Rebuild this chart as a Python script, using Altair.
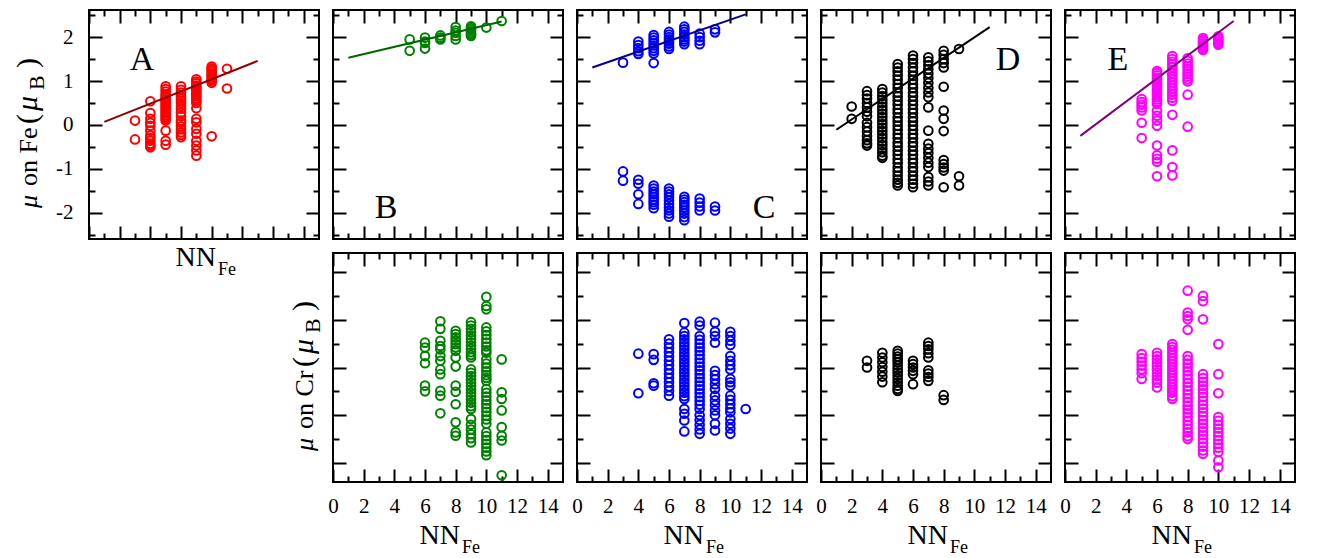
import altair as alt
import pandas as pd

FONT = "Liberation Serif"

# ---------------- data ----------------
# magnetic moment on Fe, keyed by number of Fe nearest neighbours
FE_A = {
    3: [0.10, -0.33],
    4: [0.54, 0.27, 0.14, 0.05, -0.02, -0.13, -0.24, -0.30, -0.36, -0.43, -0.47, -0.51],
    5: [0.88, 0.82, 0.76, 0.70, 0.66, 0.62, 0.58, 0.54, 0.50, 0.46, 0.42, 0.38, 0.34, 0.30,
        0.26, 0.22, 0.18, 0.14, 0.10, -0.13, -0.36, -0.45],
    6: [0.88, 0.80, 0.74, 0.66, 0.60, 0.55, 0.50, 0.43, 0.37, 0.28, 0.20, 0.10, 0.05, -0.03,
        -0.10, -0.17, -0.23, -0.28],
    7: [1.04, 0.99, 0.95, 0.90, 0.86, 0.82, 0.78, 0.74, 0.70, 0.65, 0.60, 0.55, 0.50, 0.38,
        0.14, 0.06, -0.09, -0.20, -0.36, -0.47, -0.58, -0.70],
    8: [1.33, 1.29, 1.25, 1.21, 1.17, 1.13, 1.09, 1.05, 1.01, 0.96, -0.26],
    9: [1.28, 0.83],
}
FE_B = {
    5: [1.95, 1.69],
    6: [1.99, 1.90, 1.87, 1.74],
    7: [2.04, 1.99, 1.95],
    8: [2.23, 2.15, 2.10, 2.03, 1.95],
    9: [2.25, 2.21, 2.17, 2.13, 2.09, 2.06, 2.03],
    10: [2.22],
    11: [2.37],
}
FE_C = {
    3: [1.42, -1.06, -1.27],
    4: [1.90, 1.82, 1.75, 1.68, 1.62, -1.25, -1.34, -1.58, -1.80],
    5: [2.05, 1.99, 1.93, 1.87, 1.81, 1.75, 1.69, 1.63, 1.41, -1.38, -1.45, -1.52, -1.58,
        -1.64, -1.70, -1.76, -1.82, -1.90],
    6: [2.12, 2.06, 2.00, 1.95, 1.90, 1.85, 1.79, 1.73, -1.45, -1.52, -1.58, -1.65, -1.72,
        -1.80, -1.88, -1.95, -2.02, -2.09],
    7: [2.24, 2.18, 2.12, 2.06, 2.00, 1.95, 1.90, 1.84, -1.64, -1.70, -1.76, -1.82, -1.88,
        -1.95, -2.02, -2.10, -2.17],
    8: [2.08, 2.00, 1.92, 1.84, -1.68, -1.77, -1.86, -1.95],
    9: [2.18, 2.11, -1.86, -1.95],
}
FE_D = {
    2: [0.42, 0.14],
    3: [0.77, 0.68, 0.60, 0.50, 0.40, 0.30, 0.20, 0.05, -0.05, -0.15, -0.25, -0.35, -0.42, -0.47],
    4: [0.82, 0.74, 0.66, 0.58, 0.50, 0.42, 0.34, 0.26, 0.18, 0.10, 0.02, -0.06, -0.14, -0.22,
        -0.30, -0.38, -0.46, -0.54, -0.62, -0.70, -0.75],
    5: [1.39, 1.31, 1.22, 1.12, 1.03, 0.93, 0.84, 0.74, 0.65, 0.55, 0.46, 0.36, 0.27, 0.17,
        0.08, -0.02, -0.11, -0.21, -0.30, -0.40, -0.49, -0.59, -0.68, -0.78, -0.87, -0.97,
        -1.06, -1.16, -1.25, -1.32, -1.38],
    6: [1.58, 1.50, 1.41, 1.31, 1.22, 1.12, 1.03, 0.93, 0.84, 0.74, 0.65, 0.55, 0.46, 0.36,
        0.27, 0.17, 0.08, -0.02, -0.11, -0.21, -0.30, -0.40, -0.49, -0.59, -0.68, -0.78,
        -0.87, -0.97, -1.06, -1.16, -1.25, -1.34, -1.42],
    7: [1.54, 1.45, 1.36, 1.27, 1.17, 1.07, 0.96, 0.85, 0.74, 0.63, 0.40, -0.13, -0.43, -0.54,
        -0.64, -0.75, -0.86, -0.96, -1.19, -1.29, -1.38],
    8: [1.69, 1.60, 1.50, 1.41, 1.31, 0.87, 0.33, 0.14, -0.14, -0.80, -0.89, -0.97, -1.04, -1.42],
    9: [1.73, -1.17, -1.38],
}
FE_E = {
    5: [0.59, 0.52, 0.46, 0.40, 0.33, 0.05, -0.30],
    6: [1.23, 1.18, 1.13, 1.08, 1.03, 0.98, 0.93, 0.88, 0.83, 0.78, 0.73, 0.68, 0.63, 0.58,
        0.53, 0.48, 0.33, 0.21, 0.10, -0.02, -0.47, -0.69, -0.77, -0.84, -1.17],
    7: [1.57, 1.50, 1.44, 1.38, 1.32, 1.25, 1.18, 1.11, 1.04, 0.97, 0.90, 0.83, 0.76, 0.69,
        0.62, 0.55, 0.23, -0.58, -0.96, -1.15],
    8: [1.52, 1.46, 1.40, 1.34, 1.28, 1.22, 1.16, 1.10, 1.04, 0.99, 0.69, -0.04],
    9: [1.98, 1.94, 1.90, 1.86, 1.82, 1.78, 1.74, 1.71],
    10: [2.02, 1.98, 1.94, 1.90, 1.86, 1.83],
}

# magnetic moment on Cr (no tick labels in the figure)
CR_B = {
    6: [0.52, 0.42, 0.24, 0.09, -0.38, -0.50],
    7: [0.97, 0.81, 0.56, 0.45, 0.38, 0.24, 0.14, -0.04, -0.14, -0.49, -0.59, -0.96],
    8: [0.77, 0.70, 0.63, 0.56, 0.49, 0.42, 0.35, 0.21, 0.02, -0.38, -0.51, -0.77, -1.15,
        -1.36, -1.43],
    9: [0.95, 0.88, 0.81, 0.74, 0.67, 0.60, 0.53, 0.46, 0.39, 0.32, 0.26, 0.21, -0.04, -0.11,
        -0.18, -0.25, -0.32, -0.39, -0.46, -0.53, -0.60, -0.67, -0.74, -0.81, -0.87, -1.08,
        -1.20, -1.30, -1.40, -1.48, -1.57],
    10: [1.48, 1.29, 1.22, 0.84, 0.76, 0.68, 0.60, 0.52, 0.44, 0.36, 0.31, 0.17, 0.08, 0.00,
         -0.08, -0.16, -0.22, -0.28, -0.45, -0.53, -0.61, -0.69, -0.77, -0.85, -0.93, -1.01,
         -1.09, -1.18, -1.36, -1.44, -1.52, -1.60, -1.68, -1.76, -1.84],
    11: [0.17, -0.52, -0.66, -0.90, -1.25, -1.43, -1.53, -2.26],
}
CR_C = {
    4: [0.29, -0.54],
    5: [0.28, 0.16, -0.33, -0.38],
    6: [0.59, 0.50, 0.41, 0.32, 0.23, 0.14, 0.05, -0.04, -0.13, -0.22, -0.31, -0.40, -0.49, -0.59],
    7: [0.93, 0.73, 0.66, 0.59, 0.52, 0.45, 0.38, 0.31, 0.24, 0.17, 0.10, 0.03, -0.04, -0.11,
        -0.18, -0.25, -0.32, -0.39, -0.46, -0.53, -0.60, -0.66, -0.87, -0.97, -1.11, -1.34],
    8: [0.96, 0.88, 0.66, 0.58, 0.50, 0.42, 0.34, 0.26, 0.18, 0.10, 0.02, -0.06, -0.14, -0.22,
        -0.30, -0.38, -0.46, -0.54, -0.62, -0.70, -0.78, -0.87, -1.00, -1.10, -1.20, -1.30, -1.39],
    9: [0.94, 0.75, 0.66, 0.52, -0.07, -0.16, -0.25, -0.35, -0.45, -0.59, -0.69, -0.79, -0.90,
        -1.00, -1.18, -1.32],
    10: [0.75, 0.66, 0.56, 0.47, 0.24, 0.14, 0.05, -0.04, -0.24, -0.31, -0.38, -0.59, -0.68,
         -0.77, -0.86, -0.94, -1.08, -1.18, -1.28, -1.39],
    11: [-0.87],
}
CR_D = {
    3: [0.14, 0.00],
    4: [0.31, 0.21, 0.11, 0.01, -0.09, -0.19, -0.31],
    5: [0.35, 0.29, 0.23, 0.17, 0.11, 0.04, -0.03, -0.10, -0.17, -0.24, -0.31, -0.38, -0.45, -0.49],
    6: [0.14, 0.07, 0.00, -0.07, -0.14, -0.35],
    7: [0.52, 0.45, 0.38, 0.30, 0.21, -0.06, -0.13, -0.20, -0.28],
    8: [-0.58, -0.68],
}
CR_E = {
    5: [0.28, 0.20, 0.12, 0.04, -0.04, -0.12, -0.24],
    6: [0.31, 0.24, 0.17, 0.10, 0.03, -0.04, -0.11, -0.18, -0.25, -0.32, -0.42],
    7: [0.49, 0.43, 0.37, 0.31, 0.25, 0.19, 0.13, 0.07, 0.01, -0.05, -0.11, -0.17, -0.23,
        -0.29, -0.35, -0.41, -0.47, -0.53, -0.60, -0.66],
    8: [1.61, 1.15, 1.08, 1.01, 0.79, 0.24, 0.16, 0.08, 0.00, -0.08, -0.16, -0.24, -0.32,
        -0.40, -0.48, -0.56, -0.64, -0.72, -0.80, -0.88, -0.96, -1.04, -1.12, -1.20, -1.28,
        -1.36, -1.44, -1.50],
    9: [1.50, 1.39, 1.01, -0.14, -0.22, -0.30, -0.38, -0.46, -0.54, -0.62, -0.70, -0.78,
        -0.86, -0.94, -1.02, -1.10, -1.18, -1.26, -1.34, -1.42, -1.50, -1.58, -1.66, -1.74, -1.81],
    10: [0.49, -0.14, -0.54, -1.04, -1.12, -1.20, -1.28, -1.36, -1.44, -1.52, -1.60, -1.68,
         -1.77, -1.95, -2.09],
}

# linear fits drawn in the Fe panels
FIT_X = [1, 11]
FIT_A = [0.07, 1.46]
FIT_B = [1.53, 2.36]
FIT_C = [1.31, 2.52]
FIT_D = [-0.11, 2.23]
FIT_E = [-0.25, 2.37]

X_MAJOR = [0, 2, 4, 6, 8, 10, 12, 14]
X_MINOR = [1, 3, 5, 7, 9, 11, 13]
FE_Y_MAJOR = [-2, -1, 0, 1, 2]
FE_Y_MINOR = [-2.5, -1.5, -0.5, 0.5, 1.5, 2.5]
CR_Y_MAJOR = [-2, -1, 0, 1, 2]
CR_Y_MINOR = [-1.5, -0.5, 0.5, 1.5]

X_DOMAIN = [0, 15]
FE_DOMAIN = [-2.6, 2.62]
CR_DOMAIN = [-2.4, 2.4]

W, H = 230, 229
ONE = alt.Data(values=[{}])


def long_df(d):
    return pd.DataFrame([(x, y) for x, ys in d.items() for y in ys], columns=["nn", "mu"])


def axis(orient, values, size, labels=False, pad=0):
    kw = dict(orient=orient, values=values, tickSize=size, offset=-size, labels=labels,
              domain=False, grid=False, title=None, ticks=True, tickWidth=2,
              tickColor="black")
    if labels:
        kw.update(labelFont=FONT, labelFontSize=21, labelColor="black", labelPadding=pad,
                  labelExpr="'' + datum.value", labelFlush=False, labelOverlap=False)
    return alt.Axis(**kw)


def text(t, x, y, size, style="normal", align="left", baseline="alphabetic", angle=0):
    kw = dict(text=t, font=FONT, fontSize=size, fontStyle=style, align=align,
              baseline=baseline, color="black")
    if angle:
        kw["angle"] = angle
    return alt.Chart(ONE).mark_text(**kw).encode(x=alt.value(x), y=alt.value(y))


def ytitle(element, xb):
    # rotated axis title "mu  on Fe (mu_B)" assembled from pieces (text reads bottom to top)
    pieces = [("\u03bc", 26, "italic", 0, 198), ("on " + element, 26, "normal", 0, 176),
              ("(", 30, "normal", 0, 114), ("\u03bc", 30, "italic", 0, 101),
              ("B", 22, "normal", 7, 80), (")", 30, "normal", 0, 58)]
    return [text(t, xb + dx, y, s, style=st, angle=270) for t, s, st, dx, y in pieces]


def xtitle():
    return [text("NN", 127, H + 27, 28, align="right"), text("Fe", 129, H + 36, 18)]


def xtitle_bottom():
    return [text("NN", 127, H + 62, 28, align="right"), text("Fe", 129, H + 71, 18)]


def panel(data, color, ydom, ymaj, ymin, fit=None, fit_color=None,
          xlabels=False, ylabels=False, extras=()):
    pts = long_df(data)
    xs = alt.Scale(domain=X_DOMAIN, nice=False, zero=False)
    ys = alt.Scale(domain=ydom, nice=False, zero=False)

    def enc(c, xa, ya):
        return c.encode(x=alt.X("nn:Q", scale=xs, axis=xa),
                        y=alt.Y("mu:Q", scale=ys, axis=ya))

    base = alt.Chart(pts)
    layers = [
        enc(base.mark_point(shape="circle", filled=False, color=color, size=75,
                            strokeWidth=2, opacity=1),
            axis("bottom", X_MAJOR, 13, labels=xlabels, pad=13),
            axis("left", ymaj, 13, labels=ylabels, pad=16)),
        enc(base.mark_point(opacity=0), axis("bottom", X_MINOR, 6), axis("left", ymin, 6)),
        enc(base.mark_point(opacity=0), axis("top", X_MAJOR, 13), axis("right", ymaj, 13)),
        enc(base.mark_point(opacity=0), axis("top", X_MINOR, 6), axis("right", ymin, 6)),
    ]
    if fit is not None:
        fdf = pd.DataFrame({"nn": FIT_X, "mu": fit})
        layers.append(enc(alt.Chart(fdf).mark_line(color=fit_color, strokeWidth=2), None, None))
    layers.extend(extras)
    return alt.layer(*layers).resolve_axis(x="independent", y="independent").properties(
        width=W, height=H)


pA = panel(FE_A, "#ff0000", FE_DOMAIN, FE_Y_MAJOR, FE_Y_MINOR, FIT_A, "#8b0000",
           ylabels=True,
           extras=[text("A", 53, 60, 34, align="center")] + xtitle() + ytitle("Fe", -52))
pB = panel(FE_B, "#008000", FE_DOMAIN, FE_Y_MAJOR, FE_Y_MINOR, FIT_B, "#006400",
           extras=[text("B", 53, 208, 34, align="center")])
pC = panel(FE_C, "#0000ff", FE_DOMAIN, FE_Y_MAJOR, FE_Y_MINOR, FIT_C, "#00008b",
           extras=[text("C", 187, 208, 34, align="center")])
pD = panel(FE_D, "#000000", FE_DOMAIN, FE_Y_MAJOR, FE_Y_MINOR, FIT_D, "#000000",
           extras=[text("D", 187, 60, 34, align="center")])
pE = panel(FE_E, "#ff00ff", FE_DOMAIN, FE_Y_MAJOR, FE_Y_MINOR, FIT_E, "#800080",
           extras=[text("E", 53, 60, 34, align="center")])

blank = alt.Chart(ONE).mark_point(opacity=0).encode(
    x=alt.value(0), y=alt.value(0)).properties(
    width=W, height=H, view=alt.ViewBackground(stroke="transparent"))

qB = panel(CR_B, "#008000", CR_DOMAIN, CR_Y_MAJOR, CR_Y_MINOR, xlabels=True,
           extras=xtitle_bottom() + ytitle("Cr", -20))
qC = panel(CR_C, "#0000ff", CR_DOMAIN, CR_Y_MAJOR, CR_Y_MINOR, xlabels=True,
           extras=xtitle_bottom())
qD = panel(CR_D, "#000000", CR_DOMAIN, CR_Y_MAJOR, CR_Y_MINOR, xlabels=True,
           extras=xtitle_bottom())
qE = panel(CR_E, "#ff00ff", CR_DOMAIN, CR_Y_MAJOR, CR_Y_MINOR, xlabels=True,
           extras=xtitle_bottom())

chart = alt.concat(pA, pB, pC, pD, pE, blank, qB, qC, qD, qE,
                   columns=5, spacing=14, bounds="flush").properties(
    padding={"left": 4, "top": 0, "right": 5, "bottom": 0}
).configure_view(stroke="black", strokeWidth=2)

chart.save("out.html", embed_options={"renderer": "svg", "actions": False})
